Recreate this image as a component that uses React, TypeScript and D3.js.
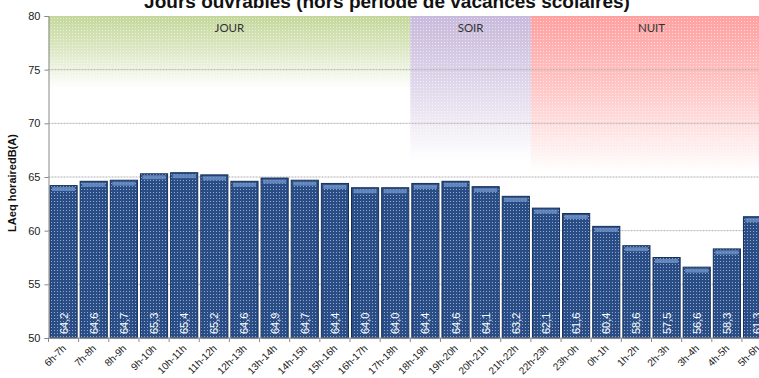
import React, { useEffect, useRef } from "react"
import * as d3 from "d3"

const hours = [
  "6h-7h", "7h-8h", "8h-9h", "9h-10h", "10h-11h", "11h-12h", "12h-13h", "13h-14h",
  "14h-15h", "15h-16h", "16h-17h", "17h-18h", "18h-19h", "19h-20h", "20h-21h", "21h-22h",
  "22h-23h", "23h-0h", "0h-1h", "1h-2h", "2h-3h", "3h-4h", "4h-5h", "5h-6h",
]
const laeq = [
  64.2, 64.6, 64.7, 65.3, 65.4, 65.2, 64.6, 64.9, 64.7, 64.4, 64.0, 64.0,
  64.4, 64.6, 64.1, 63.2, 62.1, 61.6, 60.4, 58.6, 57.5, 56.6, 58.3, 61.3,
]
const yTicks = [50, 55, 60, 65, 70, 75, 80]
const periods = [
  { name: "JOUR", from: "6h-7h", to: "17h-18h", color: "#c4d79b", fade: 0.45 },
  { name: "SOIR", from: "18h-19h", to: "21h-22h", color: "#c8badc", fade: 0.9 },
  { name: "NUIT", from: "22h-23h", to: "5h-6h", color: "#ffa0a0", fade: 0.97 },
]
const title = "Jours ouvrables (hors période de vacances scolaires)"
const yLabel = "LAeq horairedB(A)"

const W = 759
const H = 378

export default function App() {
  const ref = useRef<SVGSVGElement>(null)

  useEffect(() => {
    if (!ref.current) return
    document.body.style.margin = "0"
    const svg = d3.select(ref.current)
    svg.selectAll("*").remove()

    const left = 48.5
    const x = d3.scaleBand<string>().domain(hours).range([left, left + 30.15 * 24]).paddingInner(0.1).paddingOuter(0.05)
    const y = d3.scaleLinear().domain([50, 80]).range([338, 16])
    const defs = svg.append("defs")

    // gradients for the periods
    periods.forEach((p, i) => {
      const g = defs.append("linearGradient").attr("id", `zone${i}`).attr("x1", 0).attr("x2", 0).attr("y1", 0).attr("y2", 1)
      g.append("stop").attr("offset", 0).attr("stop-color", p.color).attr("stop-opacity", 1)
      g.append("stop").attr("offset", p.fade * 0.45).attr("stop-color", p.color).attr("stop-opacity", 0.6)
      g.append("stop").attr("offset", p.fade).attr("stop-color", p.color).attr("stop-opacity", 0)
    })
    // dither-ish dots over the zones
    const zp = defs.append("pattern").attr("id", "zdots").attr("width", 3).attr("height", 3).attr("patternUnits", "userSpaceOnUse")
    zp.append("rect").attr("width", 1).attr("height", 1).attr("fill", "#fff").attr("opacity", 0.55)

    // bar texture
    const bp = defs.append("pattern").attr("id", "bdots").attr("width", 3).attr("height", 3).attr("patternUnits", "userSpaceOnUse")
    bp.append("rect").attr("width", 3).attr("height", 3).attr("fill", "#294d84")
    bp.append("rect").attr("width", 1).attr("height", 1).attr("fill", "#8fa9d0")

    const zones = svg.append("g")
    periods.forEach((p, i) => {
      const x0 = (x(p.from) as number) - x.step() * x.paddingInner() / 2
      const x1 = (x(p.to) as number) + x.bandwidth() + x.step() * x.paddingInner() / 2
      const zTop = y(80)
      const zH = y(65) - y(80)
      zones.append("rect").attr("x", x0).attr("y", zTop).attr("width", x1 - x0).attr("height", zH).attr("fill", `url(#zone${i})`)
      zones.append("rect").attr("x", x0).attr("y", zTop).attr("width", x1 - x0).attr("height", zH * p.fade).attr("fill", "url(#zdots)")
      zones.append("text").attr("x", (x0 + x1) / 2).attr("y", 32).attr("text-anchor", "middle")
        .attr("font-family", "Lato, 'Open Sans', sans-serif").attr("font-size", 11.5).attr("fill", "#333").text(p.name)
    })

    // grid
    svg.append("g").selectAll("line").data(yTicks.filter((t) => t > 50 && t < 80)).join("line")
      .attr("x1", left).attr("x2", W).attr("y1", (d) => y(d)).attr("y2", (d) => y(d))
      .attr("stroke", "#b0b0b0").attr("stroke-dasharray", "2,1").attr("stroke-width", 1)

    // bars
    const bars = svg.append("g").selectAll("g").data(hours).join("g")
    bars.append("rect")
      .attr("x", (d) => x(d) as number).attr("y", (d, i) => y(laeq[i]))
      .attr("width", x.bandwidth()).attr("height", (d, i) => y(50) - y(laeq[i]))
      .attr("fill", "url(#bdots)").attr("stroke", "#17305a").attr("stroke-width", 1)
    bars.append("rect")
      .attr("x", (d) => (x(d) as number) + 2).attr("y", (d, i) => y(laeq[i]) + 1.5)
      .attr("width", x.bandwidth() - 4).attr("height", 4)
      .attr("fill", "#6f93c9").attr("opacity", 0.8)
    bars.append("text")
      .attr("transform", (d) => `translate(${(x(d) as number) + x.bandwidth() / 2 + 4},334) rotate(-90)`)
      .attr("font-family", "Arial, 'Liberation Sans', sans-serif").attr("font-size", 11)
      .attr("fill", "#fff").text((d, i) => d3.format(".1f")(laeq[i]).replace(".", ","))

    // axes
    const yAxis = svg.append("g").attr("transform", `translate(${left},0)`)
      .call(d3.axisLeft(y).tickValues(yTicks).tickSize(4).tickPadding(4))
    yAxis.select(".domain").attr("stroke", "#888")
    yAxis.selectAll(".tick line").attr("stroke", "#888")
    yAxis.selectAll("text").attr("font-family", "Arial, 'Liberation Sans', sans-serif").attr("font-size", 11).attr("fill", "#222")

    svg.append("line").attr("x1", left).attr("x2", W).attr("y1", y(50)).attr("y2", y(50)).attr("stroke", "#888")
    svg.append("g").selectAll("line").data(d3.range(hours.length + 1)).join("line")
      .attr("x1", (i) => left + i * x.step()).attr("x2", (i) => left + i * x.step())
      .attr("y1", y(50)).attr("y2", y(50) + 4).attr("stroke", "#888")

    svg.append("g").selectAll("text").data(hours).join("text")
      .attr("transform", (d) => `translate(${(x(d) as number) + x.bandwidth() / 2 + 3},349) rotate(-45)`)
      .attr("text-anchor", "end")
      .attr("font-family", "Arial, 'Liberation Sans', sans-serif").attr("font-size", 10).attr("fill", "#222")
      .text((d) => d)

    svg.append("text").attr("transform", `translate(16,183) rotate(-90)`).attr("text-anchor", "middle")
      .attr("font-family", "Arial, 'Liberation Sans', sans-serif").attr("font-size", 11).attr("font-weight", "bold")
      .attr("fill", "#111").text(yLabel)

    svg.append("text").attr("x", 387).attr("y", 8).attr("text-anchor", "middle")
      .attr("font-family", "Arial, 'Liberation Sans', sans-serif").attr("font-size", 19).attr("font-weight", "bold")
      .attr("fill", "#111").text(title)
  }, [])

  return <svg ref={ref} width={W} height={H} style={{ display: "block", background: "#fff" }} />
}
